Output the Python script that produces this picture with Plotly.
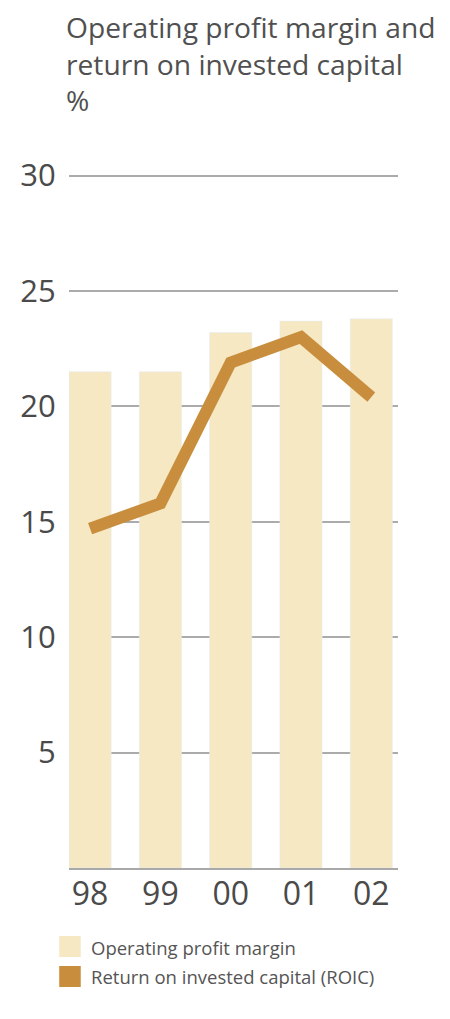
import plotly.graph_objects as go

years = ["98", "99", "00", "01", "02"]
op_margin = [21.5, 21.5, 23.2, 23.7, 23.8]
roic = [14.7, 15.8, 21.9, 23.0, 20.4]
y_ticks = [5, 10, 15, 20, 25, 30]

bar_color = "#f5e8c2"
line_color = "#c88e3e"
text_color = "#4a4a4a"
font_name = "Open Sans"

fig = go.Figure()
fig.add_trace(go.Bar(x=years, y=op_margin, marker_color=bar_color, width=0.6,
                     name="Operating profit margin", showlegend=False))
fig.add_trace(go.Scatter(x=years, y=roic, mode="lines",
                         line=dict(color=line_color, width=12),
                         name="Return on invested capital (ROIC)", showlegend=False))

# page body adds 8px on each side, so the figure is smaller than the window
fig.update_layout(
    width=434, height=1003,
    margin=dict(l=54, r=44, t=163, b=143),
    plot_bgcolor="white", paper_bgcolor="white",
    font=dict(family=font_name, color=text_color),
)
fig.update_xaxes(type="category", range=[-0.3, 4.38], showgrid=False,
                 showline=True, linecolor="#a9a9a9", linewidth=2,
                 tickfont=dict(size=32, color=text_color), ticks="outside",
                 ticklen=0, ticklabelstandoff=-3, tickcolor="rgba(0,0,0,0)")
fig.update_yaxes(range=[0, 30.2], tickvals=y_ticks, showgrid=True,
                 gridcolor="#ababab", gridwidth=1.8, zeroline=False,
                 tickfont=dict(size=31, color=text_color), ticks="outside",
                 ticklen=6, tickcolor="rgba(0,0,0,0)")

# title
fig.add_annotation(xref="paper", yref="paper", x=(57 - 62) / 336, y=1.0, yshift=165,
                   xanchor="left", yanchor="top", align="left", showarrow=False,
                   text="Operating profit margin and<br>return on invested capital<br>%",
                   font=dict(size=28.2, color="#505050"))

# legend
legend_items = [("Operating profit margin", bar_color),
                ("Return on invested capital (ROIC)", line_color)]
for i, (label, col) in enumerate(legend_items):
    y0 = 936 + i * 30
    fig.add_shape(type="rect", xref="paper", yref="paper",
                  x0=(52 - 62) / 336, x1=(74 - 62) / 336,
                  y0=(868 - y0) / 697, y1=(868 - y0 - 21) / 697,
                  fillcolor=col, line_width=0)
    fig.add_annotation(xref="paper", yref="paper", x=(82 - 62) / 336,
                       y=(868 - y0 - 11) / 697, xanchor="left", yanchor="middle",
                       showarrow=False, text=label,
                       font=dict(size=18.5, color="#555555"))

fig.write_html("out.html")
